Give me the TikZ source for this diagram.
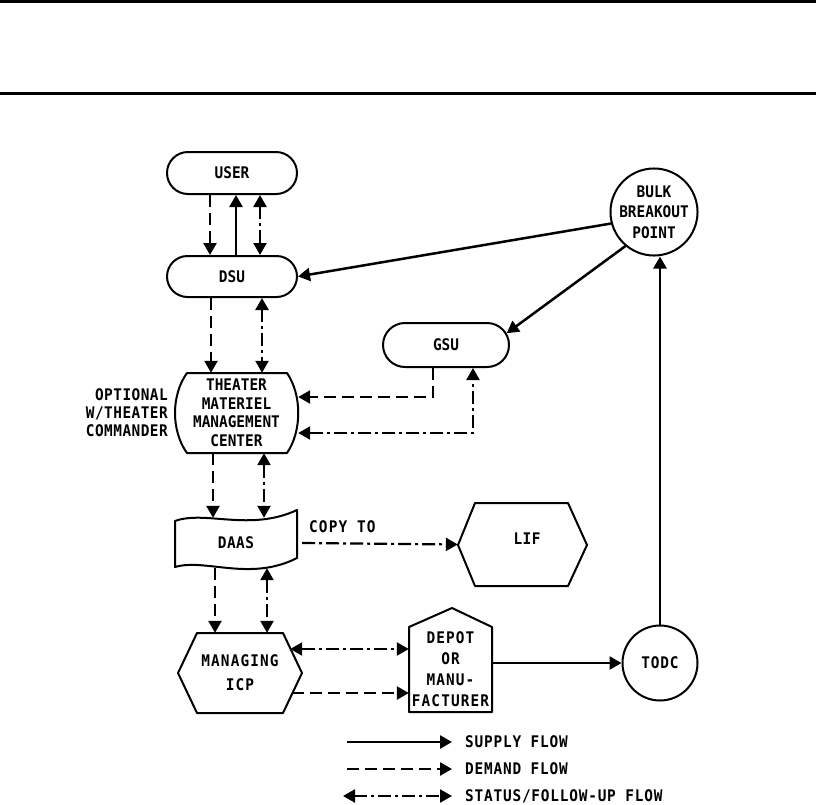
\documentclass[tikz,border=0pt]{standalone}
\usepackage{fontspec}
\setmainfont{DejaVu Sans Mono}[FakeStretch=0.9]
\usetikzlibrary{arrows.meta,shapes.misc}
\newcommand{\lsp}[1]{\addfontfeature{LetterSpace=#1}}
\begin{document}
\begin{tikzpicture}[x=1pt,y=-1pt,
  every node/.style={font=\fontsize{16}{19}\selectfont\bfseries, inner sep=0pt, align=center},
  shp/.style={line width=2pt, line join=round},
  pill/.style={rounded rectangle, draw, line width=2pt, minimum width=130pt, minimum height=42pt},
  arrone/.style={-{Triangle[length=12pt,width=13pt]}},
  arrboth/.style={{Triangle[length=12pt,width=13pt]}-{Triangle[length=12pt,width=13pt]}},
  supply/.style={line width=2.5pt, arrone},
  demand/.style={line width=2.5pt, dash pattern=on 12pt off 6pt, arrone},
  status/.style={line width=2.2pt, dash pattern=on 13pt off 4pt on 3pt off 4pt, arrboth},
  statusone/.style={line width=2.2pt, dash pattern=on 13pt off 4pt on 3pt off 4pt, arrone},
  legtext/.style={anchor=west, font=\fontsize{16}{19}\selectfont\bfseries\lsp{5}},
]
\useasboundingbox (0,0) rectangle (816,804);
% header rules
\draw[line width=3pt] (0,1.5) -- (816,1.5);
\draw[line width=3pt] (0,93.5) -- (816,93.5);

% nodes
\node[pill] (user) at (232,173) {USER};
\node[pill, minimum height=41pt] (dsu) at (232,276.5) {DSU};
\node[pill, minimum width=126pt, minimum height=44pt] (gsu) at (446,345) {GSU};
\node[circle, draw, line width=2pt, minimum size=78pt, font=\fontsize{16}{20.5}\selectfont\bfseries] (bulk) at (654,212) {BULK\\BREAKOUT\\POINT};

\node[text width=123pt, minimum height=80pt, font=\fontsize{16}{18.5}\selectfont\bfseries] (tm) at (236.5,413) {THEATER\\MATERIEL\\MANAGEMENT\\CENTER};
\draw[shp] (187,373) -- (287,373) .. controls (302,395) and (302,431) .. (287,453) -- (187,453) .. controls (171,431) and (171,395) .. cycle;

\node[anchor=east, align=right, font=\fontsize{16}{18}\selectfont\bfseries\lsp{3}] (opt) at (168,413) {OPTIONAL\\W/THEATER\\COMMANDER};

\node[text width=122pt, minimum height=50pt, font=\fontsize{16}{19}\selectfont\bfseries\lsp{3}] (daas) at (236,543) {DAAS};
\draw[shp] (175,521) .. controls (205,510) and (250,532) .. (297,510) -- (297,558) .. controls (250,582) and (205,558) .. (175,567) -- cycle;

\node[text width=129pt, minimum height=83pt, font=\fontsize{16}{19}\selectfont\bfseries\lsp{3}] (lif) at (522.5,544.5) {\raisebox{12pt}{\hspace{9pt}LIF}};
\draw[shp] (458,545) -- (475,503) -- (568,503) -- (587,545) -- (568,586) -- (475,586) -- cycle;

\node[legtext, font=\fontsize{16}{19}\selectfont\bfseries\lsp{7}] (copy) at (309,527) {COPY TO};

\node[text width=124pt, minimum height=80pt, font=\fontsize{16}{24}\selectfont\bfseries\lsp{7}] (icp) at (240,673) {MANAGING\\ICP};
\draw[shp] (178,673) -- (197,633) -- (283,633) -- (302,673) -- (283,713) -- (197,713) -- cycle;

\node[text width=83pt, minimum height=85pt, font=\fontsize{16}{21}\selectfont\bfseries\lsp{7}] (depot) at (450.5,669.5) {DEPOT\\OR\\MANU-\\FACTURER};
\draw[shp] (409,627) -- (452,608) -- (492,627) -- (492,712) -- (409,712) -- cycle;

\node[circle, draw, line width=2pt, minimum size=75pt, font=\fontsize{16}{19}\selectfont\bfseries\lsp{5}] (todc) at (660,663) {TODC};

% connectors
\draw[demand] ([xshift=-22pt]user.south) -- ([xshift=-22pt]user.south |- dsu.north);
\draw[supply] ([xshift=4pt]dsu.north) -- ([xshift=4pt]dsu.north |- user.south);
\draw[status] ([xshift=28pt]user.south) -- ([xshift=28pt]user.south |- dsu.north);
\draw[supply] (bulk.195) -- (dsu.east);
\draw[supply] (bulk.230) -- (gsu.11);
\draw[demand] ([xshift=-21pt]dsu.south) -- ([xshift=-21pt]dsu.south |- tm.north);
\draw[status] ([xshift=30pt]dsu.south) -- ([xshift=30pt]dsu.south |- tm.north);
\draw[demand] ([xshift=-13pt]gsu.south) |- ([yshift=16pt]tm.east);
\draw[status] ([yshift=-20pt]tm.east) -| ([xshift=27pt]gsu.south);
\draw[demand] ([xshift=-23.5pt]tm.south) -- ([xshift=-23.5pt]tm.south |- daas.north);
\draw[status] ([xshift=27.5pt]tm.south) -- ([xshift=27.5pt]tm.south |- daas.north);
\draw[statusone] ([xshift=5pt]daas.east) -- (lif.west);
\draw[demand] ([xshift=-21pt]daas.south) -- ([xshift=-21pt]daas.south |- icp.north);
\draw[status] ([xshift=31pt]daas.south) -- ([xshift=31pt]daas.south |- icp.north);
\coordinate (icpA) at ([xshift=-12pt,yshift=24pt]icp.east);
\coordinate (icpB) at ([xshift=-10pt,yshift=-20pt]icp.east);
\draw[status] (icpA) -- (icpA -| depot.west);
\draw[demand] (icpB) -- (icpB -| depot.west);
\draw[supply] (depot.east |- todc.west) -- (todc.west);
\draw[supply] (todc.north) -- (todc.north |- bulk.south);

% legend
\coordinate (l1a) at (347,742); \coordinate (l1b) at (452,742);
\coordinate (l2a) at (347,769); \coordinate (l2b) at (452,769);
\coordinate (l3a) at (343,796); \coordinate (l3b) at (452,796);
\draw[supply] (l1a) -- (l1b);
\draw[demand] (l2a) -- (l2b);
\draw[status] (l3a) -- (l3b);
\node[legtext] (t1) at (465,742) {SUPPLY FLOW};
\node[legtext] (t2) at (465,769) {DEMAND FLOW};
\node[legtext] (t3) at (465,796) {STATUS/FOLLOW-UP FLOW};
\end{tikzpicture}
\end{document}
